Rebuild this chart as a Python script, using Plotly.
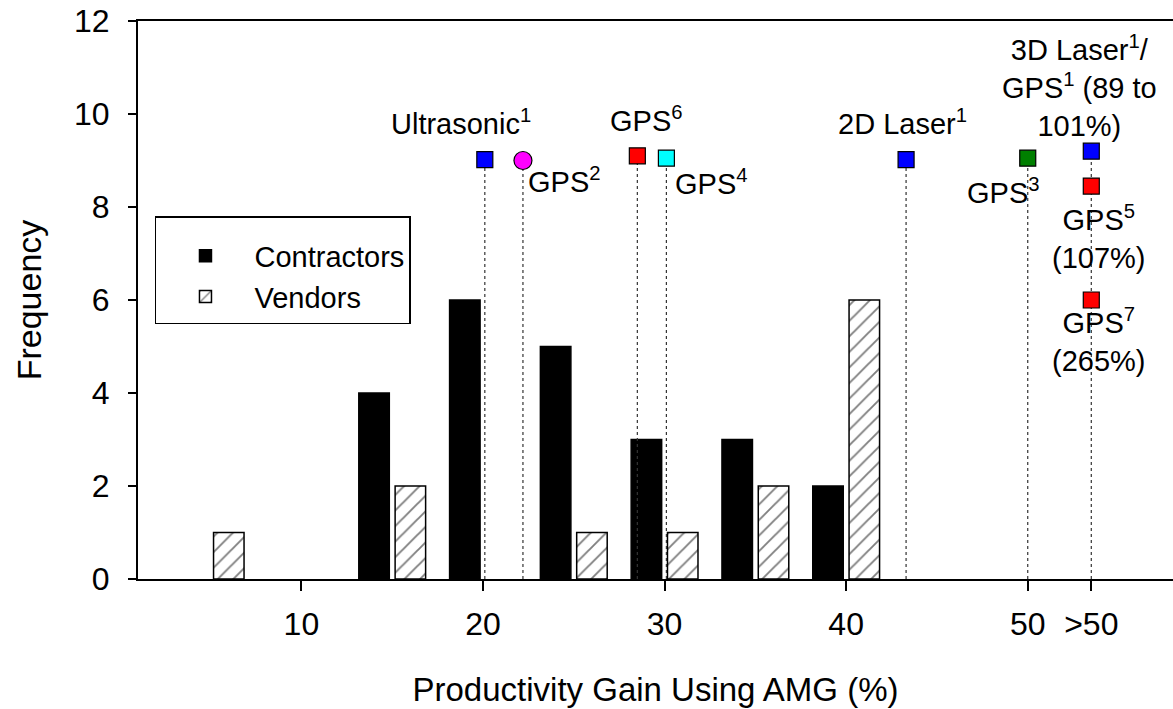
import plotly.graph_objects as go

# ---- data ----
contractor_x = [14, 19, 24, 29, 34, 39]
contractor_y = [4, 6, 5, 3, 3, 2]
vendor_x = [6, 16, 26, 31, 36, 41]
vendor_y = [1, 2, 1, 1, 2, 6]

tick_vals = [10, 20, 30, 40, 50, 53.5]
tick_text = ["10", "20", "30", "40", "50", ">50"]

marker_names = ["Ultrasonic1", "GPS2", "GPS6", "GPS4", "2DLaser1", "GPS3", "3DLaser1/GPS1", "GPS5", "GPS7"]
marker_x = [20.1, 22.2, 28.5, 30.1, 43.3, 50.0, 53.5, 53.5, 53.5]
marker_y = [9.02, 9.0, 9.1, 9.05, 9.02, 9.05, 9.2, 8.45, 6.0]
marker_color = ["#0000FF", "#FF00FF", "#FF0000", "#00FFFF", "#0000FF", "#007F00", "#0000FF", "#FF0000", "#FF0000"]
marker_symbol = ["square", "circle", "square", "square", "square", "square", "square", "square", "square"]

label_text = ["Ultrasonic<sup>1</sup>", "GPS<sup>2</sup>", "GPS<sup>6</sup>", "GPS<sup>4</sup>",
              "2D Laser<sup>1</sup>", "GPS<sup>3</sup>",
              "3D Laser<sup>1</sup>/<br>GPS<sup>1</sup> (89 to<br>101%)",
              "GPS<sup>5</sup><br>(107%)", "GPS<sup>7</sup><br>(265%)"]
label_x = [18.8, 24.5, 29.0, 32.6, 43.1, 48.65, 52.85, 53.9, 53.9]
label_y = [9.83, 8.58, 9.89, 8.53, 9.82, 8.34, 10.6, 7.35, 5.15]

FONT = "Liberation Sans, Arial, sans-serif"

fig = go.Figure()

# dotted drop lines (one per distinct x, from highest marker down to 0)
drop = {}
for x, y in zip(marker_x, marker_y):
    drop[x] = max(drop.get(x, 0), y)
for x, y in drop.items():
    fig.add_trace(go.Scatter(x=[x, x], y=[0, y], mode="lines",
                             line=dict(color="#333333", width=1.2, dash="dot"),
                             showlegend=False, hoverinfo="skip"))

fig.add_trace(go.Bar(x=contractor_x, y=contractor_y, name="Contractors", width=1.68,
                     marker=dict(color="black", line=dict(color="black", width=1.5))))
fig.add_trace(go.Bar(x=vendor_x, y=vendor_y, name="Vendors", width=1.68,
                     marker=dict(color="white", line=dict(color="black", width=1.5),
                                 pattern=dict(shape="/", fgcolor="black", bgcolor="white",
                                              size=11, solidity=0.17))))

for i in range(len(marker_x)):
    fig.add_trace(go.Scatter(x=[marker_x[i]], y=[marker_y[i]], mode="markers",
                             marker=dict(symbol=marker_symbol[i], color=marker_color[i],
                                         size=18 if marker_symbol[i] == "circle" else 16,
                                         line=dict(color="black", width=1.2)),
                             name=marker_names[i], showlegend=False))

for t, x, y in zip(label_text, label_x, label_y):
    fig.add_annotation(x=x, y=y, text=t, showarrow=False, xanchor="center", yanchor="middle",
                       font=dict(family=FONT, size=29, color="black"), align="center")

fig.update_layout(
    width=1173, height=709,
    margin=dict(l=138, r=0, t=21, b=130),
    paper_bgcolor="white", plot_bgcolor="white",
    barmode="overlay",
    font=dict(family=FONT, color="black"),
    showlegend=True,
    legend=dict(x=0.0164, y=0.6505, xanchor="left", yanchor="top",
                bordercolor="black", borderwidth=1.5, bgcolor="white",
                font=dict(family=FONT, size=29, color="black"),
                itemwidth=88, traceorder="normal",
                title=dict(text=" ", font=dict(size=10))),
    xaxis=dict(range=[1, 58], showline=True, linecolor="black", linewidth=2, mirror=True,
               ticks="outside", ticklen=10, tickwidth=1.5, tickcolor="black",
               tickvals=tick_vals, ticktext=tick_text, ticklabelstandoff=6,
               tickfont=dict(family=FONT, size=32, color="black"),
               showgrid=False, zeroline=False,
               title=dict(text="Productivity Gain Using AMG (%)", standoff=36,
                          font=dict(family=FONT, size=33, color="black"))),
    yaxis=dict(range=[0, 12], showline=True, linecolor="black", linewidth=2,
               ticks="outside", ticklen=8, tickwidth=1.5, tickcolor="black",
               tickvals=[0, 2, 4, 6, 8, 10, 12], ticklabelstandoff=12,
               tickfont=dict(family=FONT, size=32, color="black"),
               showgrid=False, zeroline=False,
               title=dict(text="Frequency", standoff=22,
                          font=dict(family=FONT, size=34, color="black"))),
)

fig.write_html("out.html", config={"displayModeBar": False},
               post_script="document.body.style.margin='0';")
